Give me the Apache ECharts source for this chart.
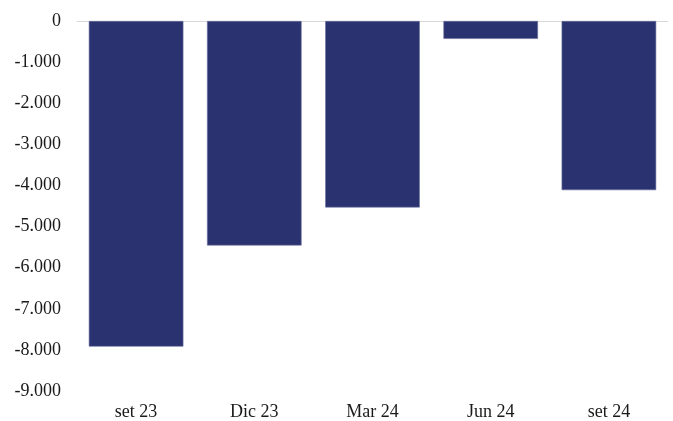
<!DOCTYPE html>
<html>
<head>
<meta charset="utf-8">
<script src="https://cdn.jsdelivr.net/npm/echarts@6/dist/echarts.min.js"></script>
<style>
html,body{margin:0;padding:0;background:#fff;}
#c{width:673px;height:421px;}
</style>
</head>
<body>
<div id="c"></div>
<script>
const categories = ['set 23', 'Dic 23', 'Mar 24', 'Jun 24', 'set 24'];
const values = [-7920, -5460, -4535, -435, -4115];

const chart = echarts.init(document.getElementById('c'), null, {renderer: 'canvas'});
const fontFamily = '"Liberation Serif", "DejaVu Serif", serif';
chart.setOption({
  animation: false,
  grid: {left: 77, right: 5, top: 21, bottom: 29, containLabel: false},
  xAxis: [
    {
      type: 'category',
      data: categories,
      position: 'bottom',
      axisLine: {show: false},
      axisTick: {show: false},
      axisLabel: {color: '#1a1a1a', fontFamily: fontFamily, fontSize: 18, margin: 12}
    },
    {
      type: 'category',
      data: categories,
      position: 'top',
      axisLine: {show: true, lineStyle: {color: '#d9d9d9', width: 1}},
      axisTick: {show: false},
      axisLabel: {show: false}
    }
  ],
  yAxis: {
    type: 'value',
    min: -9000,
    max: 0,
    interval: 1000,
    axisLine: {show: false},
    axisTick: {show: false},
    splitLine: {show: false},
    axisLabel: {
      color: '#1a1a1a',
      fontFamily: fontFamily,
      fontSize: 18,
      margin: 16,
      formatter: function (v) {
        const s = Math.abs(v).toString().replace(/\B(?=(\d{3})+(?!\d))/g, '.');
        return (v < 0 ? '-' : '') + s;
      }
    }
  },
  series: [{
    type: 'bar',
    data: values,
    barCategoryGap: '20%',
    itemStyle: {color: '#2a3270', borderColor: '#6a6f9c', borderWidth: 0.6}
  }]
});
</script>
</body>
</html>
